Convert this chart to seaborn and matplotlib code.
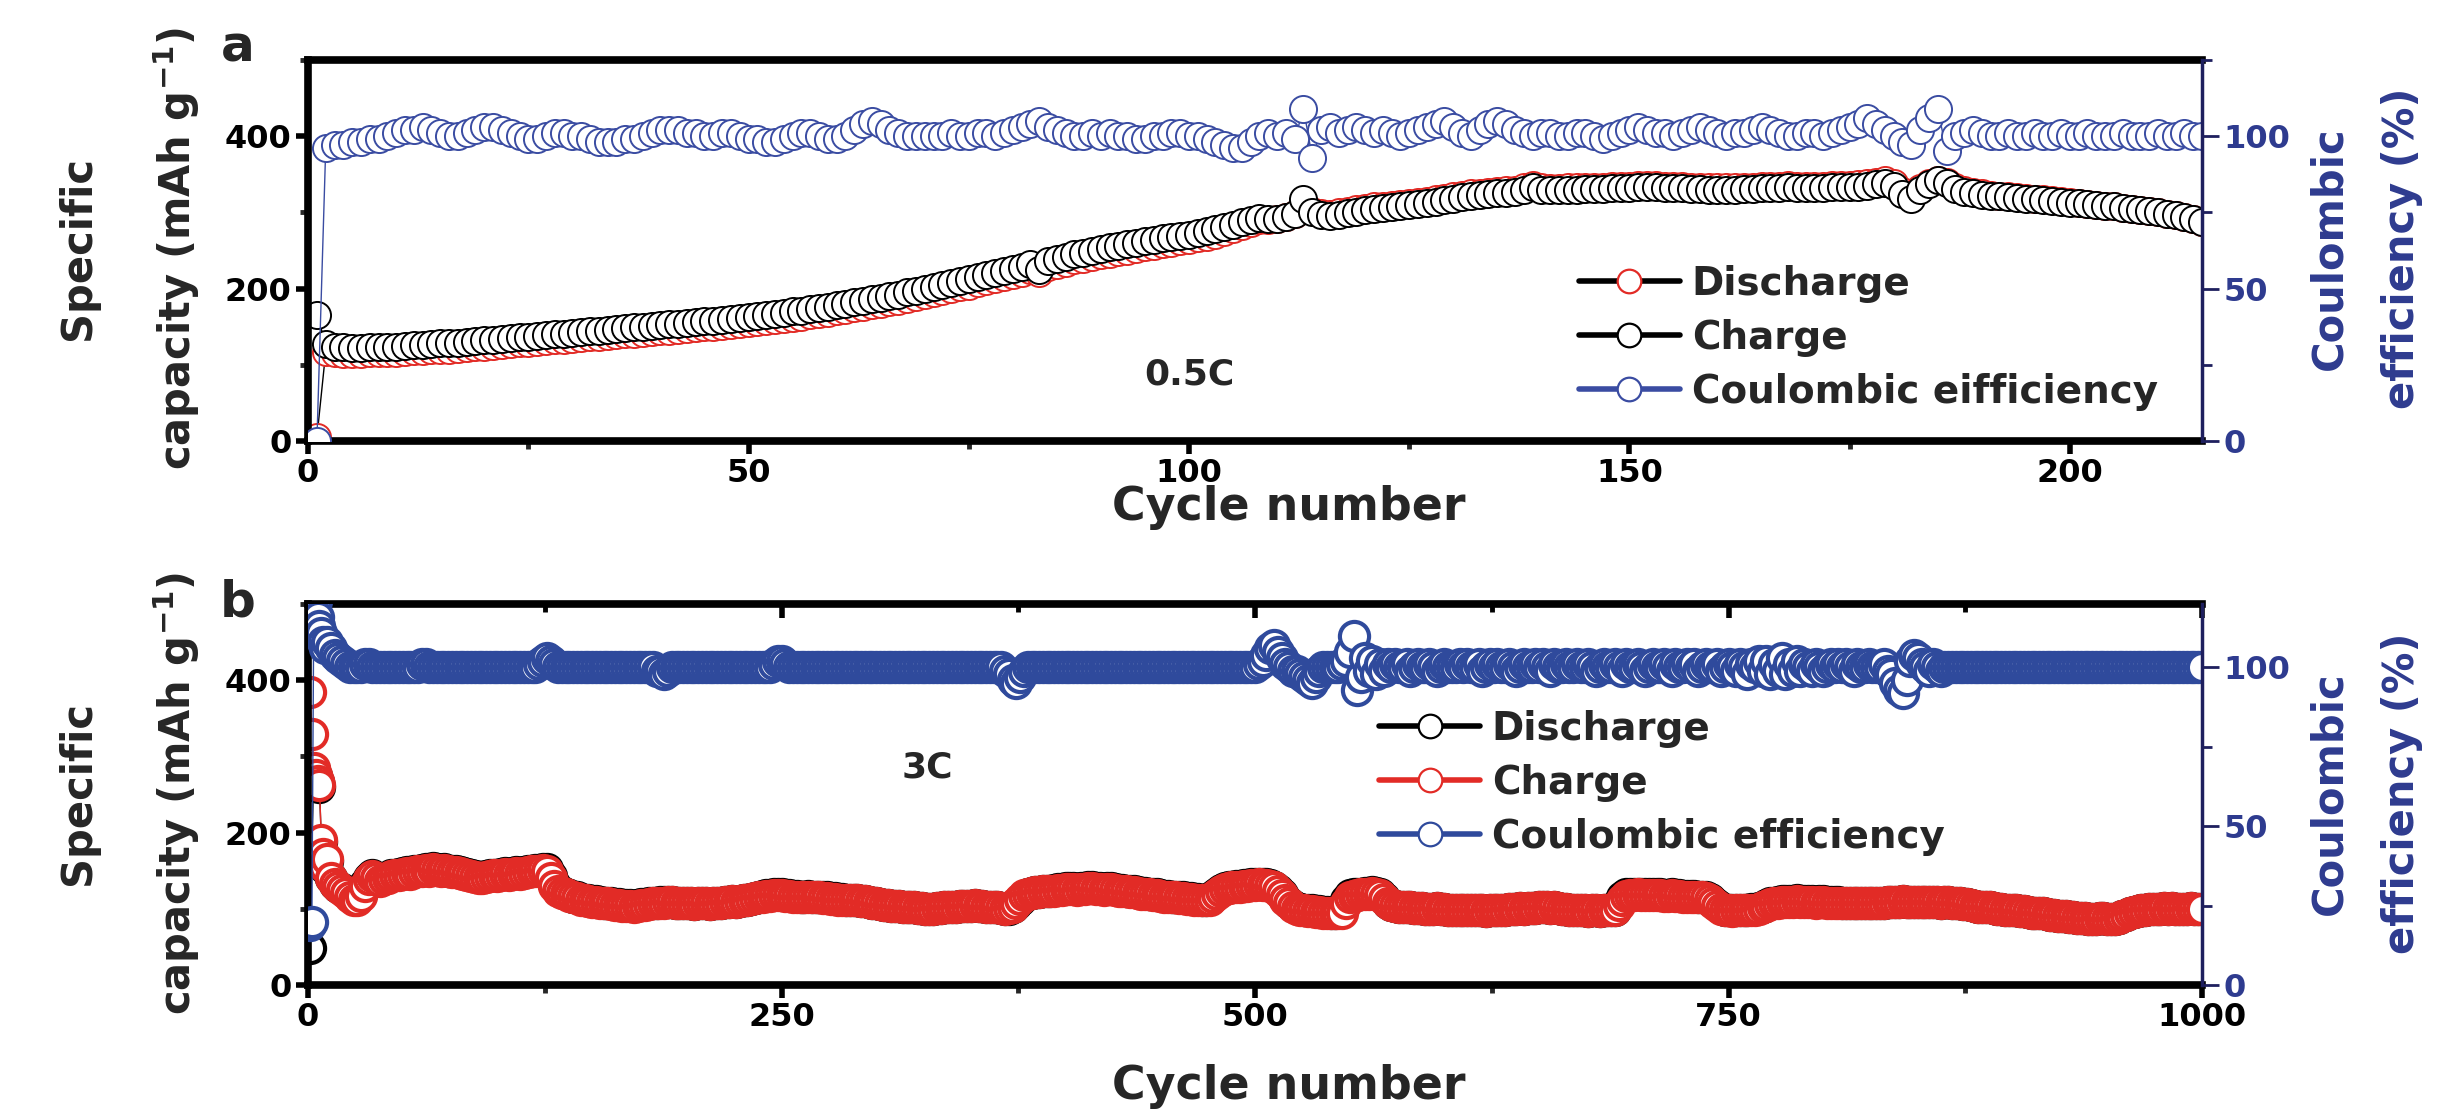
import numpy as np
import matplotlib
matplotlib.use("Agg")
import matplotlib.pyplot as plt
import seaborn as sns
from matplotlib.lines import Line2D
from matplotlib.ticker import MultipleLocator

# ------------------------------------------------------------------ data
# Panel a : 0.5C, cycles 1..215
cycles_a = np.arange(1, 216)
charge_a = [166,
    127,124,123,122,122,123,123,124,124,
    125,126,126,127,128,128,129,130,131,132,
    133,134,135,136,137,138,139,140,141,142,
    143,144,145,146,147,148,149,150,151,152,
    153,154,155,156,157,158,159,160,161,163,
    164,165,167,168,170,171,173,175,176,178,
    180,182,184,186,188,190,192,195,197,200,
    202,205,207,210,212,215,218,221,223,226,
    229,232,225,236,239,242,245,247,250,252,
    254,256,258,260,262,264,266,268,269,271,
    273,275,278,281,284,287,290,293,291,292,
    294,298,318,300,296,295,297,299,301,303,
    305,306,307,308,310,311,312,314,316,318,
    320,322,323,324,325,326,327,330,334,330,
    329,329,330,330,331,331,331,332,332,332,
    333,333,333,332,332,332,331,331,330,330,
    330,330,331,331,332,332,332,333,332,332,
    332,332,333,333,333,334,335,337,339,335,
    324,318,330,337,342,339,331,327,325,323,
    322,321,320,319,318,317,316,315,314,313,
    312,311,310,309,308,306,305,303,302,300,
    298,296,294,291,288]
discharge_a = [5,
    117,115,114,114,114,115,115,116,116,
    117,118,118,119,120,120,121,122,123,124,
    125,126,127,128,129,130,131,132,133,134,
    135,136,137,138,139,140,141,142,143,144,
    145,146,147,148,149,150,151,152,153,155,
    156,157,159,160,162,163,165,167,168,170,
    172,174,176,178,180,182,184,187,189,192,
    194,197,199,202,204,207,210,213,215,218,
    221,224,221,228,231,234,237,239,242,244,
    246,248,250,252,254,256,258,260,262,264,
    266,268,271,274,278,282,286,290,290,291,
    294,298,310,302,299,298,300,302,304,306,
    308,309,310,311,313,314,315,317,319,321,
    323,325,326,327,328,329,330,333,336,333,
    332,332,333,333,334,334,334,335,335,335,
    336,336,336,335,335,335,334,334,333,333,
    333,333,334,334,335,335,335,336,335,335,
    335,335,336,336,336,337,338,340,342,338,
    328,322,332,339,343,340,333,329,327,325,
    323,322,321,320,319,318,317,316,315,314,
    312,311,310,309,308,306,305,303,302,300,
    298,296,294,291,288]
ce_a = [0,
    96,97,97,98,98,99,99,100,101,
    102,102,103,102,101,100,100,101,102,103,
    103,102,101,100,99,99,100,101,101,100,
    100,99,98,98,98,99,99,100,101,102,
    102,102,101,101,100,100,101,101,100,99,
    99,98,98,99,100,101,101,100,99,99,
    100,102,104,105,104,102,101,100,100,100,
    100,100,101,100,100,101,101,100,101,102,
    103,104,105,103,102,101,100,100,101,100,
    101,100,100,99,99,100,100,101,101,100,
    100,99,98,97,96,96,98,100,101,100,
    101,99,109,93,102,103,101,102,103,102,
    101,102,101,100,101,102,103,104,105,103,
    101,100,102,104,105,104,102,101,100,101,
    101,100,100,101,101,100,99,100,101,102,
    103,102,101,101,100,101,102,103,102,101,
    100,101,101,102,103,102,101,100,100,101,
    101,100,101,102,103,104,106,104,102,100,
    98,97,102,106,109,95,100,101,102,101,
    100,100,101,100,100,101,100,100,101,100,
    100,101,100,100,100,101,100,100,100,101,
    100,100,101,100,100]

# Panel b : 3C, cycles 1..9 then every 2nd cycle 10..1000
cycles_b = [1, 2, 3, 4, 5, 6, 7, 8, 9] + list(range(10, 1001, 2))
charge_b = [385,330,285,276,268,262,190,172,155,
    165,140,132,128,125,121,116,112,111,117,
    130,139,143,140,137,139,141,143,144,145,
    146,147,146,148,149,150,151,150,152,151,
    150,151,149,148,148,147,146,145,143,142,
    141,141,142,143,144,143,145,146,145,146,
    147,146,147,148,149,150,150,151,150,141,
    130,124,121,119,117,115,114,112,111,110,
    109,109,108,107,107,106,105,105,104,104,
    104,103,104,105,105,106,107,107,108,108,
    109,109,108,108,107,108,107,106,107,107,
    107,106,107,108,108,109,109,110,109,110,
    111,112,113,114,115,116,117,117,118,118,
    118,117,117,116,116,115,115,116,115,115,
    115,114,114,113,113,112,112,111,111,111,
    111,110,110,109,108,107,106,105,105,104,
    104,104,103,103,102,102,101,101,100,100,
    100,101,101,102,102,103,103,104,104,104,
    104,105,104,104,103,103,102,102,101,100,
    101,103,108,113,118,120,121,122,122,123,
    123,124,124,125,125,126,126,126,125,126,
    126,127,127,126,126,125,126,126,125,124,
    124,123,122,122,121,120,120,119,118,118,
    117,116,116,115,115,114,114,113,113,112,
    112,111,111,112,116,120,124,126,127,128,
    129,129,130,130,131,131,132,131,131,130,
    128,124,118,112,107,103,100,99,98,97,
    97,96,96,95,95,94,94,94,95,108,
    115,117,118,119,120,120,121,120,118,113,
    108,105,104,103,103,102,102,101,101,101,
    100,100,100,101,100,100,99,99,99,98,
    98,98,98,99,98,98,97,98,98,99,
    99,99,100,100,100,101,100,101,101,101,
    102,102,102,101,102,101,100,100,99,98,
    98,98,98,97,98,98,97,98,98,98,
    99,105,112,117,118,118,119,118,118,118,
    118,118,118,117,117,118,117,117,116,116,
    116,116,115,115,114,112,108,104,100,98,
    98,97,98,98,98,98,99,99,100,102,
    104,106,107,108,109,109,109,109,110,109,
    109,109,109,108,109,109,108,108,108,108,
    108,107,107,107,107,107,107,108,108,108,
    108,108,109,109,109,109,110,109,109,109,
    109,109,109,109,109,109,108,109,109,108,
    108,107,106,106,105,104,103,103,102,102,
    101,100,100,99,99,98,98,97,97,96,
    95,95,94,94,93,92,92,91,90,90,
    89,89,88,88,88,87,87,87,88,88,
    87,87,87,88,90,92,94,96,97,98,
    99,100,100,100,100,101,100,101,100,100,
    100,100,101,100,100,100]
discharge_b = [48,178,282,274,266,260,188,170,154,
    163,141,133,129,126,122,118,115,114,120,
    132,140,144,141,138,140,142,144,145,146,
    147,148,147,149,150,151,152,151,153,152,
    151,152,150,149,149,148,147,146,144,143,
    142,142,143,144,145,144,146,147,146,147,
    148,147,148,149,150,151,151,152,152,143,
    132,125,122,120,118,116,115,113,112,111,
    110,110,109,108,108,107,106,106,105,105,
    105,104,105,106,106,107,108,108,109,109,
    109,109,108,108,107,108,107,106,107,107,
    107,106,107,108,108,109,109,110,109,110,
    111,112,113,114,116,117,118,118,119,119,
    119,118,118,117,117,116,116,117,116,116,
    116,115,115,114,114,113,113,112,112,112,
    111,110,110,109,108,107,106,105,105,104,
    104,104,103,103,102,102,101,101,100,100,
    100,101,101,102,102,103,103,104,104,104,
    104,105,104,104,103,103,102,102,101,100,
    100,102,106,112,117,119,121,122,122,123,
    123,124,125,126,126,127,127,127,126,127,
    127,128,128,127,127,126,127,127,126,125,
    125,124,123,123,122,121,121,120,119,119,
    118,117,117,116,116,115,115,114,114,113,
    113,112,112,113,117,121,125,127,128,129,
    130,130,131,131,132,132,133,132,132,131,
    129,125,119,113,108,104,101,100,99,98,
    98,97,97,96,96,95,95,96,98,112,
    118,119,119,120,121,121,122,121,119,114,
    108,105,104,103,103,102,102,101,101,101,
    100,100,100,101,100,100,99,99,99,98,
    98,98,98,99,98,98,97,98,98,99,
    99,99,100,100,100,101,100,101,101,101,
    102,102,102,101,102,101,100,100,99,98,
    98,98,98,97,98,98,97,98,98,98,
    99,107,115,119,120,120,120,119,119,119,
    119,119,119,118,118,119,118,118,117,117,
    117,117,116,116,115,113,109,105,101,99,
    99,98,99,99,99,99,100,100,101,103,
    105,107,108,109,110,110,110,110,111,110,
    110,110,110,109,110,110,109,109,109,109,
    108,107,107,107,107,107,107,108,108,108,
    108,108,109,109,109,109,110,109,109,109,
    109,109,109,109,109,109,108,109,109,108,
    108,107,106,106,105,104,103,103,102,102,
    101,100,100,99,99,98,98,97,97,96,
    95,95,94,94,93,92,92,91,90,90,
    89,89,88,88,88,87,87,87,88,88,
    87,87,87,88,90,92,94,96,97,98,
    99,100,100,100,100,101,100,101,100,100,
    100,100,101,100,100,100]
ce_b = [19,20,118,121,116,113,111,108,106,
    108,106,104,103,102,101,100,100,100,100,
    101,101,100,100,100,100,100,100,100,100,
    100,100,100,100,100,101,101,100,100,100,
    100,100,100,100,100,100,100,100,100,100,
    100,100,100,100,100,100,100,100,100,100,
    100,100,100,100,100,100,101,102,103,102,
    101,100,100,100,100,100,100,100,100,100,
    100,100,100,100,100,100,100,100,100,100,
    100,100,100,100,100,100,100,99,99,98,
    99,100,100,100,100,100,100,100,100,100,
    100,100,100,100,100,100,100,100,100,100,
    100,100,100,100,100,100,100,100,101,102,
    102,101,100,100,100,100,100,100,100,100,
    100,100,100,100,100,100,100,100,100,100,
    100,100,100,100,100,100,100,100,100,100,
    100,100,100,100,100,100,100,100,100,100,
    100,100,100,100,100,100,100,100,100,100,
    100,100,100,100,100,100,100,100,100,99,
    98,96,95,97,99,100,100,100,100,100,
    100,100,100,100,100,100,100,100,100,100,
    100,100,100,100,100,100,100,100,100,100,
    100,100,100,100,100,100,100,100,100,100,
    100,100,100,100,100,100,100,100,100,100,
    100,100,100,100,100,100,100,100,100,100,
    100,100,100,100,100,100,101,102,104,106,
    107,105,103,101,100,99,99,98,97,96,
    95,97,99,100,100,100,100,100,101,102,
    105,110,93,97,103,99,102,98,101,99,
    101,100,101,100,100,101,99,100,101,100,
    100,101,100,99,100,101,100,100,100,101,
    100,101,100,100,101,99,100,101,100,101,
    100,100,101,100,99,100,101,100,100,101,
    100,101,100,99,101,100,100,101,100,100,
    101,100,100,101,100,99,100,101,100,100,
    101,100,99,101,100,100,101,100,99,100,
    101,100,100,101,100,99,101,100,100,101,
    100,101,99,100,101,100,100,101,99,100,
    101,100,99,101,100,98,101,100,102,99,
    102,98,101,99,103,98,101,99,102,99,
    101,100,99,101,100,99,100,101,100,101,
    100,101,100,99,101,100,100,101,100,100,
    100,101,99,98,95,93,92,96,102,104,
    103,101,100,99,101,100,99,100,100,100,
    100,100,100,100,100,100,100,100,100,100,
    100,100,100,100,100,100,100,100,100,100,
    100,100,100,100,100,100,100,100,100,100,
    100,100,100,100,100,100,100,100,100,100,
    100,100,100,100,100,100,100,100,100,100,
    100,100,100,100,100,100,100,100,100,100,
    100,100,100,100,100,100]

assert len(charge_a) == len(discharge_a) == len(ce_a) == len(cycles_a), (len(charge_a), len(discharge_a), len(ce_a))
assert len(charge_b) == len(discharge_b) == len(ce_b) == len(cycles_b), (len(charge_b), len(discharge_b), len(ce_b), len(cycles_b))

labels_a = ["Discharge", "Charge", "Coulombic eifficiency"]
labels_b = ["Discharge", "Charge", "Coulombic efficiency"]

# ------------------------------------------------------------------ style
RED = "#E22B26"
BLUE_A = "#3A4CA2"
BLUE_B = "#2F4A9C"
NAVY_TXT = "#2E3B8F"
NAVY_SPINE = "#1E1F5E"

sns.set_style("ticks")
plt.rcParams["font.family"] = ["DejaVu Sans"]
plt.rcParams["font.weight"] = "bold"
plt.rcParams["mathtext.default"] = "bf"

fig = plt.figure(figsize=(24.51, 11.09), dpi=100)
fig.patch.set_facecolor("white")
ax_a = fig.add_axes([0.1257, 0.6023, 0.7727, 0.3436])
ax_b = fig.add_axes([0.1257, 0.1118, 0.7727, 0.3436])


def series(ax, x, y, line_c, edge_c, ms, mew, lw):
    sns.lineplot(x=x, y=y, ax=ax, color=line_c, linewidth=lw, marker="o",
                 markersize=ms, markerfacecolor="white", markeredgecolor=edge_c,
                 markeredgewidth=mew, estimator=None, sort=False, legend=False)


# panel a
MS_A, MEW_A = 19.5, 1.4
series(ax_a, cycles_a, discharge_a, "black", RED, MS_A, MEW_A, 1.0)
series(ax_a, cycles_a, charge_a, "black", "black", MS_A, MEW_A, 1.0)
ax_a2 = ax_a.twinx()
series(ax_a2, cycles_a, ce_a, BLUE_A, BLUE_A, MS_A, MEW_A, 1.0)

# panel b
MS_B, MEW_B = 21, 3.0
series(ax_b, cycles_b, discharge_b, "black", "black", MS_B, MEW_B, 1.0)
series(ax_b, cycles_b, charge_b, RED, RED, MS_B, MEW_B, 1.0)
ax_b2 = ax_b.twinx()
series(ax_b2, cycles_b, ce_b, BLUE_B, BLUE_B, MS_B, MEW_B, 1.0)

TICK_FS = 23
for ax, ax2, xmax, xmaj, ymax2 in [(ax_a, ax_a2, 215, 50, 125), (ax_b, ax_b2, 1000, 250, 120)]:
    ax.set_xlim(0, xmax)
    ax.set_ylim(0, 500)
    ax2.set_ylim(0, ymax2)
    ax.set_xlabel("")
    ax.set_ylabel("")
    ax2.set_ylabel("")
    ax.xaxis.set_major_locator(MultipleLocator(xmaj))
    ax.xaxis.set_minor_locator(MultipleLocator(xmaj / 2))
    ax.yaxis.set_major_locator(MultipleLocator(200))
    ax.yaxis.set_minor_locator(MultipleLocator(100))
    ax2.yaxis.set_major_locator(MultipleLocator(50))
    ax2.yaxis.set_minor_locator(MultipleLocator(25))
    for s in ["left", "bottom", "top"]:
        ax.spines[s].set_visible(True)
        ax.spines[s].set_linewidth(5.5)
        ax.spines[s].set_color("black")
    ax.spines["right"].set_visible(False)
    for s in ["left", "bottom", "top"]:
        ax2.spines[s].set_visible(False)
    ax2.spines["right"].set_visible(True)
    ax2.spines["right"].set_linewidth(2.5)
    ax2.spines["right"].set_color(NAVY_SPINE)
    ax.tick_params(axis="both", which="major", direction="out", length=9, width=4,
                   labelsize=TICK_FS, colors="black", top=False, right=False, pad=3)
    ax.tick_params(axis="both", which="minor", direction="out", length=6, width=3.5,
                   top=False, right=False)
    ax2.tick_params(axis="y", which="major", direction="out", length=12, width=2,
                    labelsize=TICK_FS, color=NAVY_SPINE, labelcolor=NAVY_TXT)
    ax2.tick_params(axis="y", which="minor", direction="out", length=7, width=2,
                    color=NAVY_SPINE)

# inward top ticks of panel b
sec = ax_b.secondary_xaxis("top")
sec.xaxis.set_major_locator(MultipleLocator(250))
sec.xaxis.set_minor_locator(MultipleLocator(125))
sec.tick_params(which="major", direction="in", length=10, width=4, labeltop=False, colors="black")
sec.tick_params(which="minor", direction="in", length=6, width=3.5, colors="black")
sec.spines["top"].set_visible(False)

# legends
def handle(line_c, edge_c):
    return Line2D([], [], color=line_c, lw=4, marker="o", ms=17, mfc="white",
                  mec=edge_c, mew=1.6)

leg_a = ax_a2.legend([handle("black", RED), handle("black", "black"), handle(BLUE_A, BLUE_A)],
                     labels_a, loc="upper left", bbox_to_anchor=(0.671, 0.4625),
                     frameon=False, prop={"size": 28, "weight": "bold"},
                     handlelength=2.6, handletextpad=0.3, labelspacing=0.41,
                     borderpad=0, borderaxespad=0)
leg_b = ax_b2.legend([handle("black", "black"), handle(RED, RED), handle(BLUE_B, BLUE_B)],
                     labels_b, loc="upper left", bbox_to_anchor=(0.5655, 0.7217),
                     frameon=False, prop={"size": 28, "weight": "bold"},
                     handlelength=2.6, handletextpad=0.3, labelspacing=0.41,
                     borderpad=0, borderaxespad=0)

# annotations
ax_a.text(100, 87, "0.5C", ha="center", va="center", fontsize=26, fontweight="bold")
ax_b.text(327, 286, "3C", ha="center", va="center", fontsize=26, fontweight="bold")

fig.text(0.0971, 0.9576, "a", fontsize=36, fontweight="bold", ha="center", va="center")
fig.text(0.0971, 0.4563, "b", fontsize=36, fontweight="bold", ha="center", va="center")

for yc in [0.7764, 0.2845]:
    fig.text(0.0318, yc, "Specific", rotation=90, ha="center", va="center",
             fontsize=30, fontweight="bold")
    fig.text(0.0722, yc, r"capacity (mAh g$^{-1}$)", rotation=90, ha="center",
             va="center", fontsize=30, fontweight="bold")
    fig.text(0.9502, yc, "Coulombic", rotation=90, ha="center", va="center",
             fontsize=30, fontweight="bold", color=NAVY_TXT)
    fig.text(0.9800, yc, "efficiency (%)", rotation=90, ha="center", va="center",
             fontsize=30, fontweight="bold", color=NAVY_TXT)

fig.text(0.526, 0.5425, "Cycle number", ha="center", va="center", fontsize=33, fontweight="bold")
fig.text(0.526, 0.0200, "Cycle number", ha="center", va="center", fontsize=33, fontweight="bold")

fig.savefig("out.png", dpi=100, facecolor="white")
